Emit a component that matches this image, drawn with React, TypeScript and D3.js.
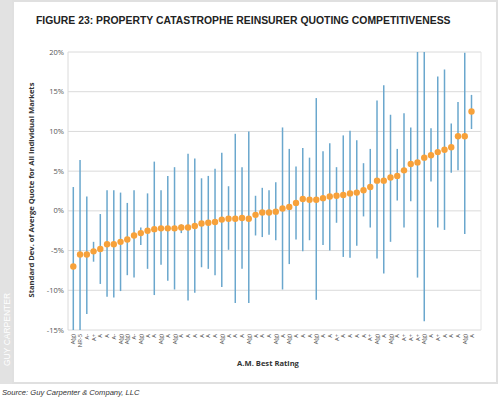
import React from 'react';
import * as d3 from 'd3';

// A.M. Best rating per reinsurer (x axis)
const ratings = [
  'A(g)', 'NR-5', 'A-', 'A+', 'A', 'A', 'A-', 'A(g)', 'A(g)', 'A-',
  'A(g)', 'A', 'A', 'A(g)', 'A', 'A(g)', 'A', 'A', 'A', 'A',
  'A', 'A', 'A(g)', 'A', 'A', 'A', 'A(g)', 'A', 'A', 'A',
  'A(g)', 'A', 'A(g)', 'A', 'A', 'A', 'A(g)', 'A', 'A', 'A+',
  'A', 'A', 'A', 'A', 'A+', 'A(g)', 'A', 'A(g)', 'A', 'A+',
  'A+', 'A+', 'A(g)', 'A', 'A+', 'A', 'A', 'A', 'A(g)', 'A',
];

// average quote deviation (%), orange markers
const means = [
  -7.0, -5.5, -5.5, -5.1, -4.8, -4.2, -4.2, -3.9, -3.6, -3.1,
  -2.8, -2.5, -2.3, -2.2, -2.2, -2.2, -2.1, -2.1, -1.9, -1.6,
  -1.5, -1.4, -1.1, -1.0, -1.0, -0.9, -1.0, -0.5, -0.2, -0.2,
  -0.1, 0.3, 0.5, 1.0, 1.5, 1.4, 1.4, 1.6, 1.8, 1.9,
  2.0, 2.2, 2.3, 2.6, 3.0, 3.8, 3.8, 4.2, 4.4, 5.1,
  5.9, 6.1, 6.7, 7.0, 7.4, 7.7, 8.0, 9.4, 9.4, 12.5,
];

// low / high end of each bar (%)
const lows = [
  -15, -15, -13.0, -6.4, -9.2, -10.8, -10.9, -10.1, -8.1, -8.4,
  -4.3, -7.3, -10.6, -6.8, -8.8, -9.9, -2.8, -11.3, -10.3, -7.1,
  -7.3, -8.1, -9.6, -4.9, -11.6, -7.3, -11.6, -3.1, -3.3, -3.0,
  -3.7, -9.9, -6.7, -3.6, -5.1, -3.7, -11.2, -4.3, -5.0, -1.5,
  -5.8, -5.9, -4.4, -0.7, -2.1, -6.0, -7.9, -3.9, 1.3, -2.1,
  1.2, -8.4, -13.9, 3.7, -2.1, -2.4, 4.8, 5.1, -2.9, 10.3,
];
const highs = [
  3.0, 6.4, 1.8, -3.9, -0.4, 2.6, 2.6, 2.3, 1.0, 2.6,
  -2.1, 2.2, 6.2, 2.6, 4.4, 5.5, -1.7, 7.2, 6.6, 4.1,
  4.4, 5.3, 7.3, 3.1, 9.7, 5.5, 10.0, 1.9, 2.9, 2.6,
  3.6, 10.5, 7.8, 5.6, 7.9, 6.7, 14.2, 7.5, 8.5, 5.5,
  9.5, 10.1, 8.9, 6.0, 7.8, 13.9, 15.8, 12.1, 7.8, 12.3,
  10.5, 20, 20, 10.4, 16.9, 17.8, 11.0, 13.7, 19.9, 14.6,
];

const yTicks = [-15, -10, -5, 0, 5, 10, 15, 20];

const W = 499;
const H = 398;
const plot = { left: 68, right: 481, top: 52, bottom: 330 };

export default function App() {
  const idx = d3.range(ratings.length);
  const x = d3.scalePoint<number>()
    .domain(idx)
    .range([plot.left + 5.3, plot.right - 9.5]);
  const y = d3.scaleLinear().domain([-15, 20]).range([plot.bottom, plot.top]);

  const font = '"Liberation Sans", Arial, sans-serif';

  return (
    <svg width={W} height={H} style={{ position: 'absolute', left: 0, top: 0 }} fontFamily={font}>
      <rect width={W} height={H} fill="#fff" />
      {/* frame and side strip */}
      <rect x={0} y={0} width={13} height={384} fill="#e2e2e2" />
      <rect x={13} y={1} width={484} height={382} fill="none" stroke="#e0e0e0" strokeWidth={2} />
      <text
        transform="translate(10,366) rotate(-90)"
        fontSize={8.5}
        fill="#fff"
        fontFamily={font}
      >
        GUY CARPENTER
      </text>

      <text x={36} y={24} fontSize={10.4} fontWeight="bold" fill="#222">
        FIGURE 23: PROPERTY CATASTROPHE REINSURER QUOTING COMPETITIVENESS
      </text>

      {/* grid */}
      {yTicks.map(t => (
        <g key={t}>
          <line x1={plot.left} x2={plot.right} y1={y(t)} y2={y(t)} stroke="#dadada" strokeWidth={1} />
          <text x={64} y={y(t) + 2.6} fontSize={7.5} fill="#555" textAnchor="end" fontFamily='"Open Sans", sans-serif'>
            {t}%
          </text>
        </g>
      ))}
      <line x1={plot.left} x2={plot.left} y1={plot.top} y2={plot.bottom} stroke="#dadada" />
      <line x1={plot.right} x2={plot.right} y1={plot.top} y2={plot.bottom} stroke="#e4e4e4" />

      {/* bars */}
      {idx.map(i => (
        <line
          key={'b' + i}
          x1={x(i)}
          x2={x(i)}
          y1={y(Math.max(lows[i], -15))}
          y2={y(Math.min(highs[i], 20))}
          stroke="#6aa7cd"
          strokeWidth={1.5}
        />
      ))}

      {/* markers */}
      {idx.map(i => (
        <circle key={'m' + i} cx={x(i)} cy={y(means[i])} r={3.2} fill="#f7a13a" />
      ))}

      {/* x labels */}
      {idx.map(i => (
        <text
          key={'l' + i}
          transform={`translate(${(x(i) ?? 0) + 2},${plot.bottom + 4}) rotate(-90)`}
          fontSize={5.8}
          fill="#444"
          textAnchor="end"
          fontFamily='"Open Sans", sans-serif'
        >
          {ratings[i]}
        </text>
      ))}

      <text
        transform="translate(34,190) rotate(-90)"
        fontSize={7.6}
        fontWeight="bold"
        fill="#333"
        textAnchor="middle"
        fontFamily='"Open Sans", sans-serif'
      >
        Standard Dev. of Averge Quote for All Individual Markets
      </text>
      <text x={268} y={366} fontSize={7.6} fontWeight="bold" fill="#333" textAnchor="middle" fontFamily='"Open Sans", sans-serif'>
        A.M. Best Rating
      </text>

      <text x={2} y={395} fontSize={7.6} fontStyle="italic" fill="#333">
        Source: Guy Carpenter &amp; Company, LLC
      </text>
    </svg>
  );
}
